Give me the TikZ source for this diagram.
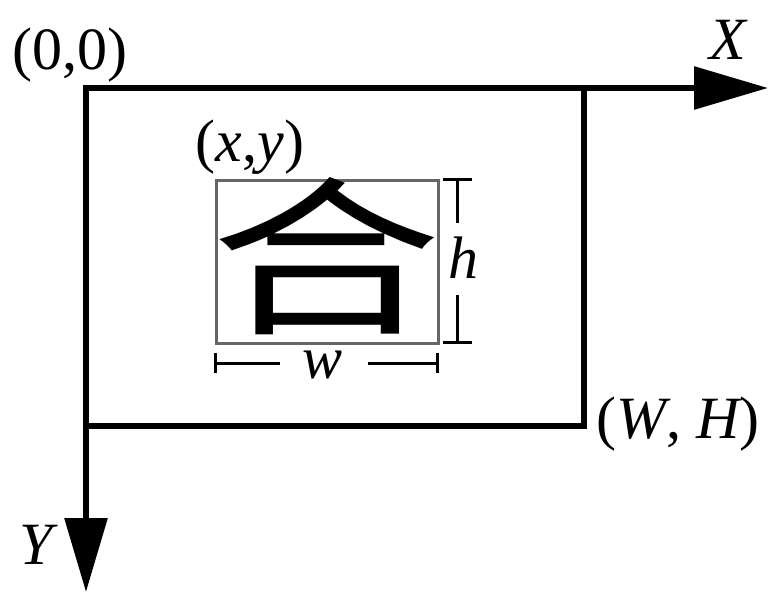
\documentclass[tikz,border=0pt]{standalone}
\usepackage{fontspec}
\setmainfont{Liberation Serif}
\newfontfamily\cjk{Noto Sans CJK SC}
\usetikzlibrary{arrows.meta}
\tikzset{
  lbl/.style={font=\fontsize{60}{60}\selectfont, inner sep=0pt},
  ilbl/.style={font=\itshape\fontsize{60}{60}\selectfont, inner sep=0pt},
  axis/.style={line width=6pt, -{Triangle[length=74pt,width=42pt]}},
  dim/.style={line width=3pt},
}
\begin{document}
\begin{tikzpicture}[x=1pt,y=-1pt]
\useasboundingbox (0,0) rectangle (768,592);
\fill[white] (0,0) rectangle (768,592);
\coordinate (O) at (86,88);
\coordinate (XE) at (768,88);
\coordinate (YE) at (86,592);
\coordinate (WH) at (584,426);
% axes
\draw[axis] (O) -- (XE);
\draw[axis] (O) -- (YE);
\draw[line width=6pt] (O) rectangle (WH);
% inner box
\node[draw=black!60, line width=3pt, minimum width=222pt, minimum height=163pt, inner sep=0pt, anchor=north west] (box) at (215,179) {};
\node[inner sep=0pt, xscale=1.3, yscale=0.96, font=\cjk\fontsize{178}{178}\selectfont] (char) at (326,256) {合};
% h bracket
\coordinate (ht1) at (443,179); \coordinate (ht2) at (472,179);
\coordinate (hb1) at (443,342); \coordinate (hb2) at (472,342);
\coordinate (hT) at (457,179); \coordinate (hB) at (457,342);
\node[ilbl] (h) at (463,258) {h};
\draw[dim] (ht1) -- (ht2);
\draw[dim] (hb1) -- (hb2);
\draw[dim] (hT) -- (457,223);
\draw[dim] (457,295) -- (hB);
% w bracket
\coordinate (wl1) at (215,353); \coordinate (wl2) at (215,373);
\coordinate (wr1) at (437,353); \coordinate (wr2) at (437,373);
\coordinate (wL) at (215,363); \coordinate (wR) at (437,363);
\node[ilbl] (w) at (323,365) {w};
\draw[dim] (wl1) -- (wl2);
\draw[dim] (wr1) -- (wr2);
\draw[dim] (wL) -- (280,363);
\draw[dim] (368,363) -- (wR);
% labels
\node[lbl] (o) at (70,55) {(0,0)};
\node[ilbl] (x) at (728,40) {X};
\node[ilbl] (y) at (36,545) {Y};
\node[lbl] (xy) at (250,147) {({\itshape x},{\itshape y})};
\node[lbl, anchor=west] (wh) at (596,424) {({\itshape W}, {\itshape H})};
\end{tikzpicture}
\end{document}
